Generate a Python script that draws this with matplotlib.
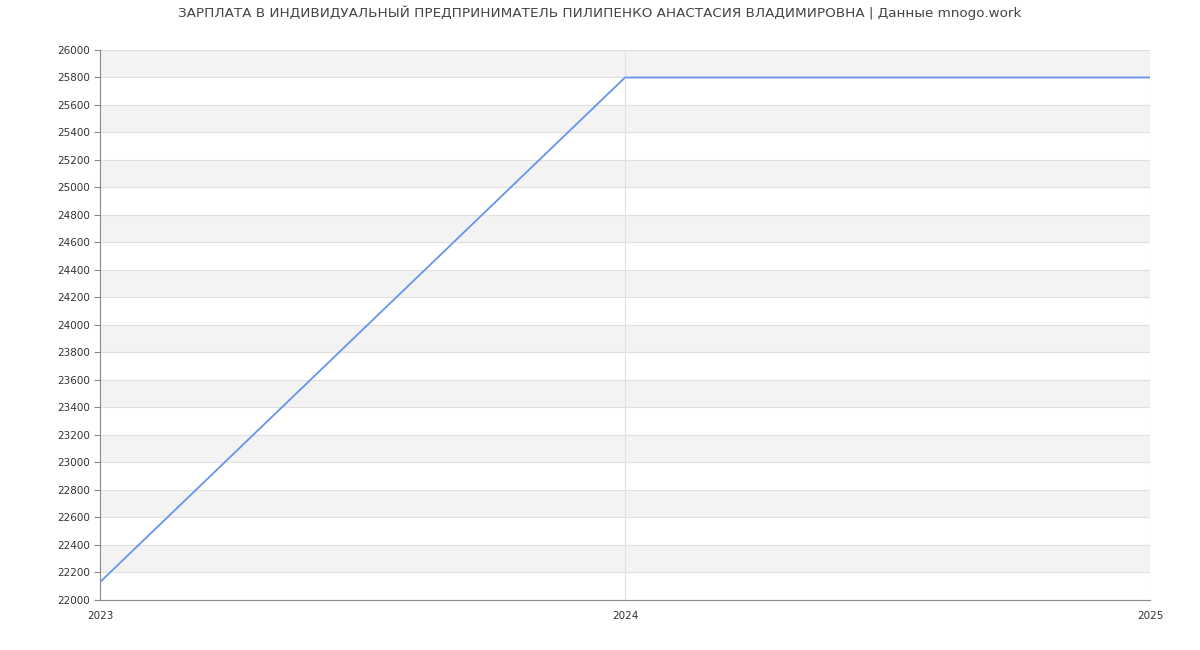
import matplotlib
matplotlib.use("Agg")
import matplotlib.pyplot as plt
import numpy as np

years = [2023, 2024, 2025]
salary = [22130, 25800, 25800]
yticks = list(range(22000, 26001, 200))
title = "ЗАРПЛАТА В ИНДИВИДУАЛЬНЫЙ ПРЕДПРИНИМАТЕЛЬ ПИЛИПЕНКО АНАСТАСИЯ ВЛАДИМИРОВНА | Данные mnogo.work"

fig = plt.figure(figsize=(12, 6.5), dpi=100)
ax = fig.add_axes([100/1200, 50/650, 1050/1200, 550/650])

ax.set_xlim(2023, 2025)
ax.set_ylim(22000, 26000)

for lo in range(22200, 26000, 400):
    ax.axhspan(lo, lo + 200, color="#f3f3f3", zorder=0, lw=0)
for y in yticks:
    ax.axhline(y, color="#e0e0e0", lw=0.8, zorder=1)
for x in years[1:]:
    ax.axvline(x, color="#e0e0e0", lw=0.8, zorder=1)

ax.plot(years, salary, color="#6495ed", lw=1.3, zorder=3)

ax.set_yticks(yticks)
ax.set_yticklabels([str(v) for v in yticks])
ax.set_xticks(years)
ax.set_xticklabels([str(v) for v in years])
ax.tick_params(axis="both", labelsize=7.5, labelcolor="#333333", color="#888888", width=0.8)
ax.tick_params(axis="y", length=4, pad=3)
ax.tick_params(axis="x", length=0, pad=8)

for s in ["top", "right"]:
    ax.spines[s].set_visible(False)
for s in ["left", "bottom"]:
    ax.spines[s].set_color("#888888")
    ax.spines[s].set_linewidth(0.8)

fig.text(0.5, 1 - 13/650, title, ha="center", va="center", fontsize=9.7, color="#444444")

fig.savefig("out.png", dpi=100)
